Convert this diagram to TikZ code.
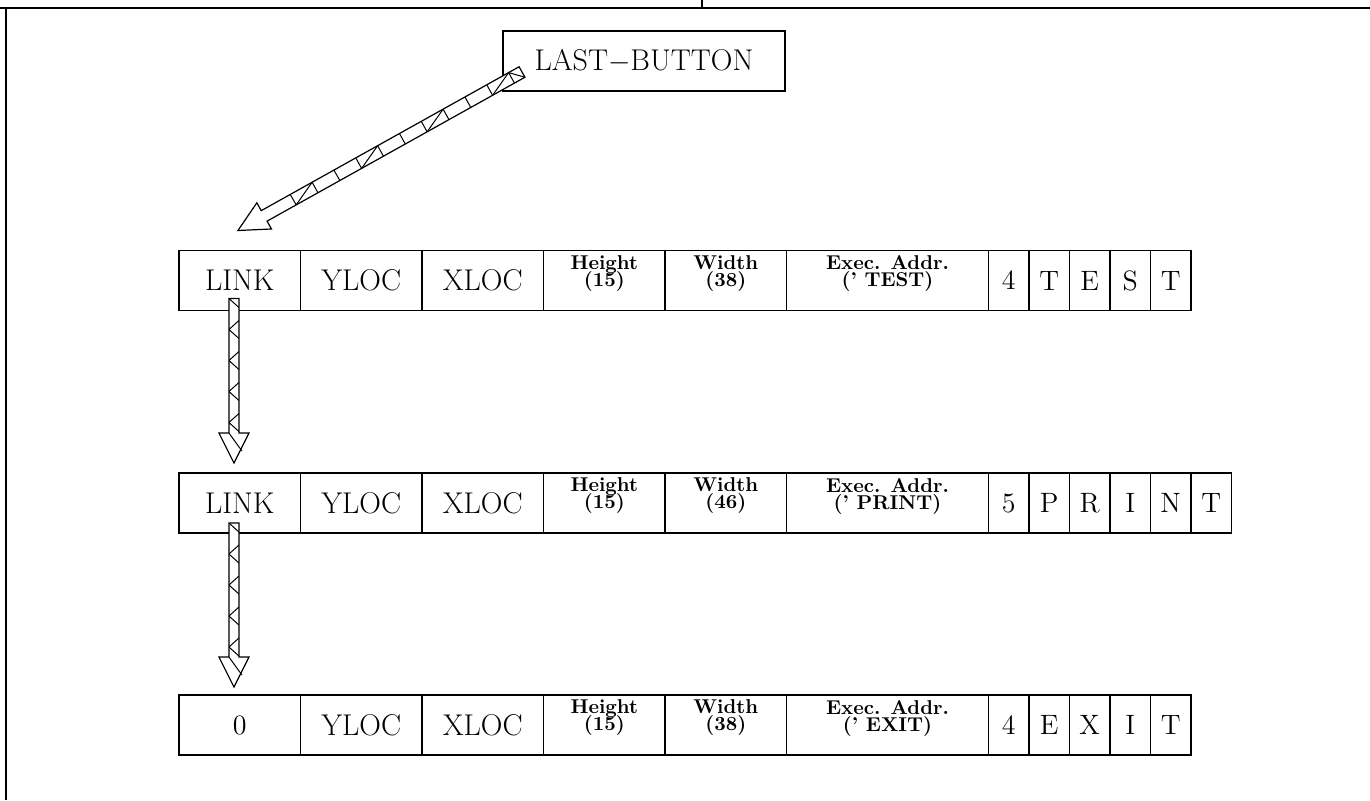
\documentclass[tikz,border=0pt]{standalone}
\usetikzlibrary{positioning,calc}
\tikzset{
  champ/.style={draw,line width=0.7pt,minimum width=60.75pt,minimum height=30pt,
                inner sep=0pt,outer sep=0pt,font=\fontsize{15}{17}\selectfont},
  adresse/.style={champ,minimum width=101pt},
  lettre/.style={champ,minimum width=20.25pt,font=\fontsize{14}{16}\selectfont},
  bouton/.style={champ,minimum width=141pt},
  contour/.style={line width=0.6pt,fill=white},
  hachure/.style={line width=0.5pt},
  cadre/.style={line width=1.1pt},
  pics/fleche chevrons/.style={code={
    \pgfmathsetmacro\longueur{#1}
    \pgfmathsetmacro\base{#1-30}
    \draw[contour] (0,5) -- (\base,5) -- (\base,15) -- (\longueur,0)
      -- (\base,-15) -- (\base,-5) -- (0,-5) -- cycle;
    \begin{scope}
      \clip (0,5) rectangle (\base,-5);
      \foreach \k in {0,31,...,\longueur} \draw[hachure] ({\k-9},5) -- (\k,-5) -- ({\k+9},5);
    \end{scope}
    \draw[hachure] (\base,-5) -- ({\base+18},8);
  }},
  pics/fleche hachee/.style={code={
    \pgfmathsetmacro\longueur{#1}
    \pgfmathsetmacro\base{#1-30}
    \pgfmathsetmacro\fin{#1-40}
    \draw[contour] (0,6) -- (\base,6) -- (\base,15) -- (\longueur,0)
      -- (\base,-15) -- (\base,-6) -- (0,-6) -- cycle;
    \foreach \k in {12,37,...,\fin} \draw[hachure] (\k,6) -- (\k,-6);
    \foreach \k in {12,87,...,\fin} \draw[hachure] (\k,-6) -- ({\k+25},6);
    \draw[hachure] (0,6) -- (12,-6);
  }},
}
\newcommand\deuxlignes[2]{\vbox{\fontsize{10}{8.5}\selectfont\bfseries\lineskiplimit=-10pt
  \halign{\hfil##\hfil\cr#1\cr#2\cr}\kern7pt}}

\begin{document}
\begin{tikzpicture}[x=0.5pt,y=0.5pt]
  \useasboundingbox (0,0) rectangle (1370,-800);
  % cadre
  \draw[cadre] (0,-8) -- (1370,-8);
  \draw[cadre] (702,0) -- (702,-8);
  \draw[line width=0.6pt] (6,-8) -- (6,-800);
  % bouton
  \node[bouton] (bouton) at (644,-61) {LAST$-$BUTTON};
  % premier bouton
  \node[champ] (l1) at (239.75,-280.5) {LINK};
  \node[champ,right=0pt of l1] (yl1) {YLOC};
  \node[champ,right=0pt of yl1] (xl1) {XLOC};
  \node[champ,right=0pt of xl1] (h1) {\deuxlignes{Height}{(15)}};
  \node[champ,right=0pt of h1] (w1) {\deuxlignes{Width}{(38)}};
  \node[adresse,right=0pt of w1] (e1) {\deuxlignes{Exec. Addr.}{(' TEST)}};
  \foreach \c [count=\i] in {4,T,E,S,T}
    \node[lettre,anchor=west] (t\i) at ([xshift=(\i-1)*20.25pt]e1.east) {\c};
  % second bouton
  \node[champ] (l2) at (239.75,-503) {LINK};
  \node[champ,right=0pt of l2] (yl2) {YLOC};
  \node[champ,right=0pt of yl2] (xl2) {XLOC};
  \node[champ,right=0pt of xl2] (h2) {\deuxlignes{Height}{(15)}};
  \node[champ,right=0pt of h2] (w2) {\deuxlignes{Width}{(46)}};
  \node[adresse,right=0pt of w2] (e2) {\deuxlignes{Exec. Addr.}{(' PRINT)}};
  \foreach \c [count=\i] in {5,P,R,I,N,T}
    \node[lettre,anchor=west] (p\i) at ([xshift=(\i-1)*20.25pt]e2.east) {\c};
  % dernier bouton
  \node[champ,font=\fontsize{14}{16}\selectfont] (l3) at (239.75,-725) {0};
  \node[champ,right=0pt of l3] (yl3) {YLOC};
  \node[champ,right=0pt of yl3] (xl3) {XLOC};
  \node[champ,right=0pt of xl3] (h3) {\deuxlignes{Height}{(15)}};
  \node[champ,right=0pt of h3] (w3) {\deuxlignes{Width}{(38)}};
  \node[adresse,right=0pt of w3] (e3) {\deuxlignes{Exec. Addr.}{(' EXIT)}};
  \foreach \c [count=\i] in {4,E,X,I,T}
    \node[lettre,anchor=west] (x\i) at ([xshift=(\i-1)*20.25pt]e3.east) {\c};
  % liens
  \coordinate (q0) at ([xshift=-61pt,yshift=-5.5pt]bouton.center);
  \coordinate (p0) at ([xshift=-0.9pt,yshift=10pt]l1.north);
  \coordinate (q1) at ([xshift=-2.9pt,yshift=6pt]l1.south);
  \coordinate (p1) at ([xshift=-2.9pt,yshift=5pt]l2.north);
  \coordinate (q2) at ([xshift=-2.9pt,yshift=5pt]l2.south);
  \coordinate (p2) at ([xshift=-2.9pt,yshift=4pt]l3.north);
  \path let \p1=($(p0)-(q0)$), \n1={scalar(veclen(\x1,\y1))*2}, \n2={scalar(atan2(\y1,\x1))}
    in (q0) pic[rotate=\n2] {fleche hachee=\n1};
  \path let \p1=($(p1)-(q1)$), \n1={scalar(veclen(\x1,\y1))*2}, \n2={scalar(atan2(\y1,\x1))}
    in (q1) pic[rotate=\n2] {fleche chevrons=\n1};
  \path let \p1=($(p2)-(q2)$), \n1={scalar(veclen(\x1,\y1))*2}, \n2={scalar(atan2(\y1,\x1))}
    in (q2) pic[rotate=\n2] {fleche chevrons=\n1};
\end{tikzpicture}
\end{document}
